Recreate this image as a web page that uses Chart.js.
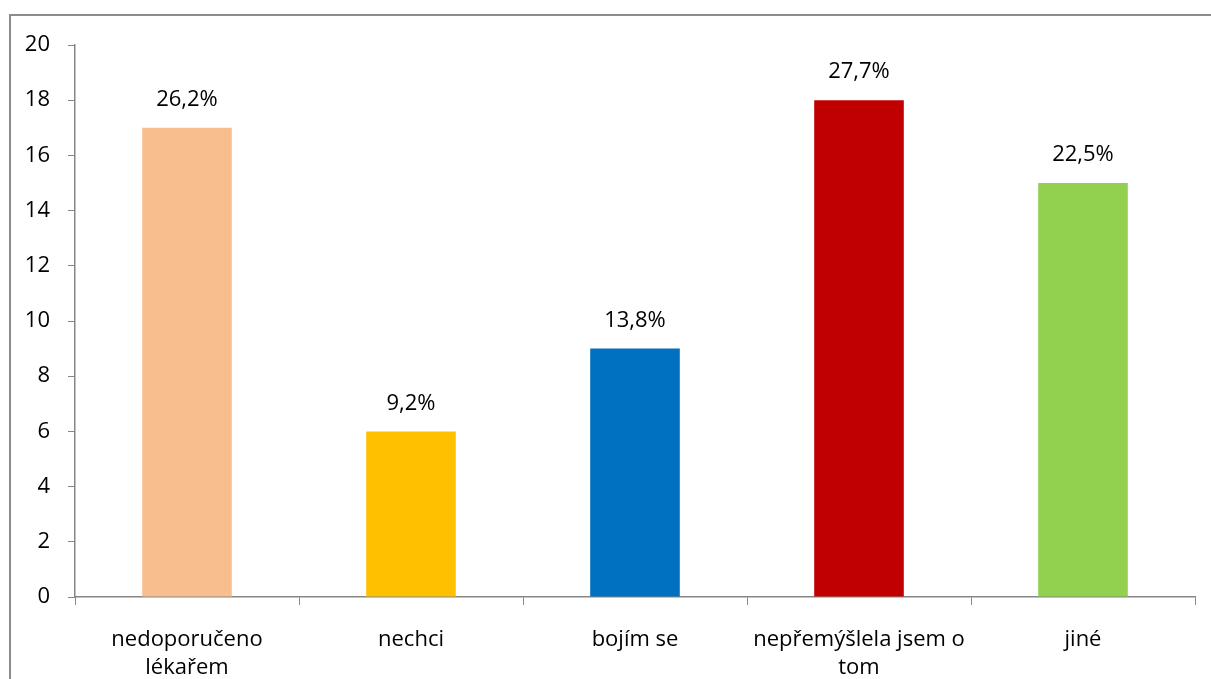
<!DOCTYPE html>
<html>
<head>
<meta charset="utf-8">
<script src="https://cdn.jsdelivr.net/npm/chart.js@4.4.1/dist/chart.umd.min.js"></script>
<style>
  html, body { margin: 0; padding: 0; background: #fff; overflow: hidden; }
  #wrap { width: 1211px; height: 679px; position: relative; }
</style>
</head>
<body>
<div id="wrap"><canvas id="graf"></canvas></div>
<script>
// odpovědi - počet respondentek a podíl v procentech
var kategorie = [["nedoporučeno", "lékařem"], "nechci", "bojím se", ["nepřemýšlela jsem o", "tom"], "jiné"];
var pocty = [17, 6, 9, 18, 15];
var procenta = ["26,2%", "9,2%", "13,8%", "27,7%", "22,5%"];
var barvy = ["#F9BE8E", "#FFC000", "#0070C0", "#C00000", "#92D050"];
var osaY = { min: 0, max: 20, krok: 2 };

var pismo = "'Open Sans', 'Noto Sans', sans-serif";

// rámeček kolem grafu + popisky nad sloupci
var doplnky = {
    id: "doplnky",
    beforeDraw: function (chart) {
        var c = chart.ctx;
        c.save();
        c.fillStyle = "#fff";
        c.fillRect(0, 0, chart.width, chart.height);
        c.strokeStyle = "#8c8c8c";
        c.lineWidth = 2;
        c.strokeRect(10, 15, chart.width + 20, chart.height + 20);
        c.restore();
    },
    afterDatasetsDraw: function (chart) {
        var c = chart.ctx;
        var meta = chart.getDatasetMeta(0);
        c.save();
        c.font = "22px " + pismo;
        c.fillStyle = "#000";
        c.textAlign = "center";
        c.textBaseline = "middle";
        meta.data.forEach(function (bar, i) {
            c.fillText(procenta[i], bar.x, bar.y - 28);
        });
        c.restore();
    }
};

var ctx = document.getElementById("graf");
var graf = new Chart(ctx, {
    type: "bar",
    data: {
        labels: kategorie,
        datasets: [{
            data: pocty,
            backgroundColor: barvy,
            borderWidth: 0,
            barPercentage: 0.4,
            categoryPercentage: 1
        }]
    },
    options: {
        responsive: true,
        maintainAspectRatio: false,
        animation: false,
        events: [],
        layout: { padding: { top: 45, right: 16, bottom: 0, left: 0 } },
        plugins: {
            legend: { display: false },
            tooltip: { enabled: false }
        },
        scales: {
            x: {
                grid: {
                    offset: true,
                    drawOnChartArea: false,
                    drawTicks: true,
                    tickLength: 8,
                    color: "#868686"
                },
                border: { color: "#868686", width: 1.5 },
                ticks: {
                    color: "#000",
                    font: { family: pismo, size: 22, lineHeight: 1.3 },
                    padding: 20,
                    maxRotation: 0,
                    autoSkip: false
                },
                afterFit: function (s) { s.height = 82; }
            },
            y: {
                min: osaY.min,
                max: osaY.max,
                grid: {
                    drawOnChartArea: false,
                    drawTicks: true,
                    tickLength: 7,
                    color: "#868686"
                },
                border: { color: "#868686", width: 1.5 },
                ticks: {
                    stepSize: osaY.krok,
                    color: "#000",
                    font: { family: pismo, size: 22 },
                    padding: 18
                },
                afterFit: function (s) { s.width = 75; }
            }
        }
    },
    plugins: [doplnky]
});
</script>
</body>
</html>
